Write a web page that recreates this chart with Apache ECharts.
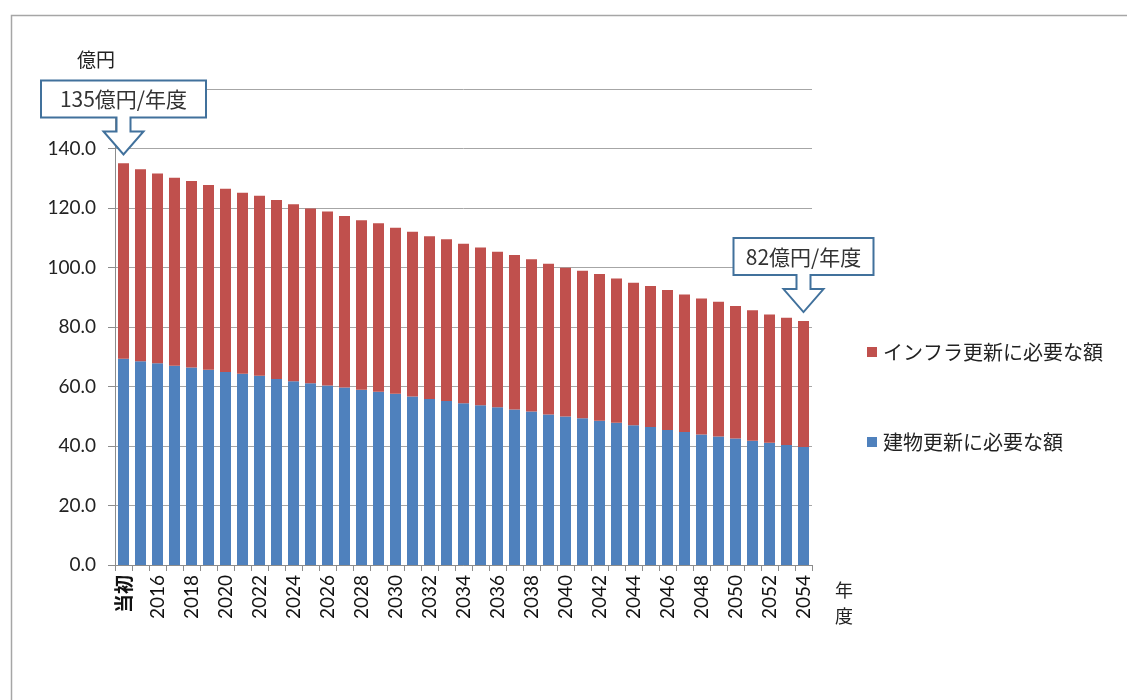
<!DOCTYPE html>
<html>
<head>
<meta charset="utf-8">
<script src="https://cdn.jsdelivr.net/npm/echarts@6/dist/echarts.min.js"></script>
<style>
html, body { margin: 0; padding: 0; background: #fff; }
#main { width: 1127px; height: 700px; }
</style>
</head>
<body>
<div id="main"></div>
<script>
// 年度（当初 + 2015〜2054）
const years = ['当初'];
for (let y = 2015; y <= 2054; y++) years.push(String(y));

// 建物更新に必要な額（億円）
const buildingValues = [
  69.3, 68.5, 67.8, 67.0, 66.4, 65.6, 64.9, 64.3, 63.6, 62.5,
  61.8, 61.1, 60.3, 59.7, 58.9, 58.2, 57.6, 56.6, 55.8, 55.1,
  54.4, 53.7, 53.0, 52.3, 51.6, 50.6, 49.9, 49.3, 48.5, 47.8,
  47.0, 46.4, 45.4, 44.7, 43.9, 43.2, 42.5, 41.8, 41.1, 40.3,
  39.7,
];
// インフラ更新に必要な額（億円）
const infraValues = [
  65.7, 64.5, 63.8, 63.2, 62.7, 62.1, 61.6, 60.8, 60.5, 60.2,
  59.5, 58.7, 58.5, 57.6, 57.0, 56.7, 55.8, 55.4, 54.7, 54.4,
  53.6, 53.0, 52.3, 51.9, 51.2, 50.7, 50.0, 49.6, 49.3, 48.5,
  47.9, 47.4, 47.0, 46.2, 45.7, 45.3, 44.6, 43.8, 43.1, 42.8,
  42.3,
];
const yTicks = [0, 20, 40, 60, 80, 100, 120, 140, 160];

// 吹き出し
const calloutIndex = [0, 40];
const calloutText = ['135億円/年度', '82億円/年度'];
const calloutWidth = [165, 140];

const seriesNames = ['建物更新に必要な額', 'インフラ更新に必要な額'];
const textFont = "'Noto Sans CJK JP', sans-serif";
const numFont = "Lato, 'Noto Sans CJK JP', sans-serif";

const chart = echarts.init(document.getElementById('main'));

chart.setOption({
  animation: false,
  grid: {
    left: 115,
    right: 315,
    top: 89,
    bottom: 135,
  },
  legend: {
    orient: 'vertical',
    left: 862,
    top: 337,
    itemGap: 70,
    itemWidth: 10,
    itemHeight: 10,
    icon: 'rect',
    data: [seriesNames[1], seriesNames[0]],
    textStyle: {
      fontFamily: textFont,
      fontSize: 20,
      color: '#222',
      padding: [0, 0, 0, 1],
    },
  },
  xAxis: {
    type: 'category',
    data: years,
    axisLine: { lineStyle: { color: '#8c8c8c', width: 1 } },
    axisTick: { show: true, interval: 0, length: 6, lineStyle: { color: '#8c8c8c' } },
    axisLabel: {
      interval: 1,
      rotate: 90,
      margin: 10,
      fontFamily: numFont,
      fontSize: 19,
      color: '#111',
      formatter: function (value) {
        return value === '当初' ? '{b|' + value + '}' : value;
      },
      rich: {
        b: { fontFamily: textFont, fontSize: 19, fontWeight: 'bold', color: '#111' },
      },
    },
  },
  yAxis: {
    type: 'value',
    min: yTicks[0],
    max: yTicks[yTicks.length - 1],
    interval: 20,
    name: '億円',
    nameLocation: 'end',
    nameGap: 20,
    nameTextStyle: {
      fontFamily: textFont,
      fontSize: 19,
      color: '#222',
      align: 'right',
      padding: [0, 0, 0, 0],
    },
    axisLine: { show: true, lineStyle: { color: '#8c8c8c', width: 1 } },
    axisTick: { show: true, length: 7, lineStyle: { color: '#8c8c8c' } },
    splitLine: { lineStyle: { color: '#a6a6a6', width: 1 } },
    axisLabel: {
      margin: 19,
      fontFamily: numFont,
      fontSize: 19,
      color: '#222',
      formatter: function (v) {
        return v.toFixed(1);
      },
    },
  },
  series: [
    {
      name: seriesNames[0],
      type: 'bar',
      stack: 'total',
      barWidth: 11,
      itemStyle: { color: '#4F81BD' },
      data: buildingValues,
    },
    {
      name: seriesNames[1],
      type: 'bar',
      stack: 'total',
      barWidth: 11,
      itemStyle: { color: '#C0504D' },
      data: infraValues,
    },
  ],
});

// 吹き出しと枠
const graphics = [
  {
    type: 'rect',
    left: 9,
    top: 13,
    z: -10,
    shape: { width: 1200, height: 800 },
    style: { fill: 'none', stroke: '#a6a6a6', lineWidth: 1.5 },
  },
  {
    type: 'text',
    left: 835,
    top: 577,
    style: {
      text: '年\n度',
      fontFamily: textFont,
      fontSize: 18,
      lineHeight: 26,
      fill: '#222',
    },
  },
];

calloutIndex.forEach(function (idx, i) {
  const total = buildingValues[idx] + infraValues[idx];
  const p = chart.convertToPixel({ seriesIndex: 1 }, [idx, total]);
  const tx = p[0];
  const ty = p[1] - 9;
  const hw = calloutWidth[i] / 2;
  const pts = [
    [-hw, -74], [hw, -74], [hw, -37], [7, -37], [7, -23], [20, -23],
    [0, 0], [-20, -23], [-7, -23], [-7, -37], [-hw, -37],
  ].map(function (q) { return [tx + q[0], ty + q[1]]; });
  graphics.push({
    type: 'polygon',
    z: 100,
    shape: { points: pts },
    style: { fill: '#fff', stroke: '#41719C', lineWidth: 2 },
  });
  graphics.push({
    type: 'text',
    z: 101,
    x: tx,
    y: ty - 55.5,
    style: {
      text: calloutText[i],
      fontFamily: textFont,
      fontSize: 21,
      fill: '#333',
      align: 'center',
      verticalAlign: 'middle',
    },
  });
});

chart.setOption({ graphic: graphics });
</script>
</body>
</html>
